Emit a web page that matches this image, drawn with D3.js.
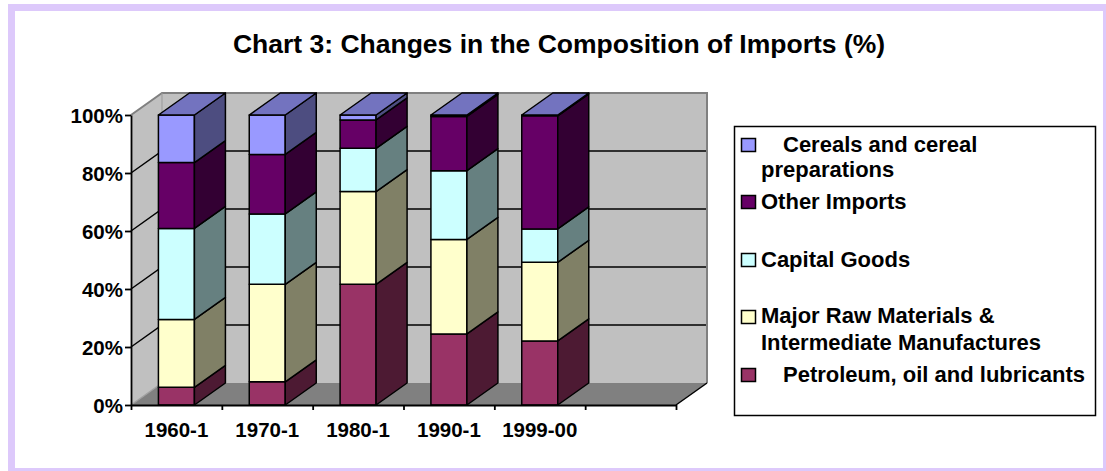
<!DOCTYPE html>
<html>
<head>
<meta charset="utf-8">
<script src="https://cdn.jsdelivr.net/npm/d3@7"></script>
<style>
  body { margin: 0; background: #fff; }
  svg { display: block; font-family: "Liberation Sans", Arial, sans-serif; }
</style>
</head>
<body>
<script>
// data (shares in %, each year sums to ~100)
var categories = ["1960-1", "1970-1", "1980-1", "1990-1", "1999-00"];
var seriesNames = ["Petroleum, oil and lubricants",
                   "Major Raw Materials & Intermediate Manufactures",
                   "Capital Goods",
                   "Other Imports",
                   "Cereals and cereal preparations"];
var petroleum = [6.1, 8.0, 41.6, 24.5, 22.1];
var rawMaterials = [23.4, 33.6, 32.0, 32.6, 27.1];
var capitalGoods = [31.4, 24.3, 14.9, 23.7, 11.5];
var otherImports = [22.7, 20.5, 9.8, 18.7, 39.0];
var cereals = [16.4, 13.6, 1.7, 0.5, 0.3];
var yTicks = [0, 0.2, 0.4, 0.6, 0.8, 1];

var colors = ["#993366", "#FFFFCC", "#CCFFFF", "#660066", "#9999FF"];
var seriesValues = [petroleum, rawMaterials, capitalGoods, otherImports, cereals];

var W = 1106, H = 471;
var dx = 31, dy = -22;   // 3d depth offset
var barW = 36;

var svg = d3.select("body").append("svg")
  .attr("width", W)
  .attr("height", H);

// outer frame
svg.append("rect").attr("x", 8).attr("y", 4).attr("width", W - 8).attr("height", H - 4).attr("fill", "#ddc9fb");
svg.append("rect").attr("x", 15).attr("y", 11).attr("width", 1088).attr("height", 457).attr("fill", "#fff");

svg.append("text")
  .attr("x", 559).attr("y", 53)
  .attr("text-anchor", "middle")
  .attr("font-size", "26.5px").attr("font-weight", "bold")
  .text("Chart 3: Changes in the Composition of Imports (%)");

var rows = categories.map(function(c, i) {
  var r = {cat: c};
  seriesNames.forEach(function(s, j) { r[s] = seriesValues[j][i]; });
  return r;
});
var stack = d3.stack().keys(seriesNames).offset(d3.stackOffsetExpand);
var layers = stack(rows);

var xi = d3.scaleLinear().domain([0, 6]).range([131, 676]);
var y = d3.scaleLinear().domain([0, 1]).range([405, 115]);

var x0 = xi(0), x1 = xi(6), yb = y(0), yt = y(1);

// walls
svg.append("polygon")
  .attr("points", [[x0, yb], [x1, yb], [x1 + dx, yb + dy], [x0 + dx, yb + dy]].join(" "))
  .attr("fill", "#808080");
svg.append("polygon")
  .attr("points", [[x0, yb], [x0, yt], [x0 + dx, yt + dy], [x0 + dx, yb + dy]].join(" "))
  .attr("fill", "#c0c0c0");
svg.append("rect")
  .attr("x", x0 + dx).attr("y", yt + dy)
  .attr("width", x1 - x0).attr("height", yb - yt)
  .attr("fill", "#c0c0c0");

// gridlines on side and back wall
var grid = svg.append("g").attr("stroke", "#000").attr("stroke-width", 1.5).attr("fill", "none");
yTicks.filter(function(t) { return t > 0 && t < 1; }).forEach(function(t) {
  grid.append("polyline")
    .attr("points", [[x0, y(t)], [x0 + dx, y(t) + dy], [x1 + dx, y(t) + dy]].join(" "));
});
svg.append("polyline")
  .attr("points", [[x0, yt], [x0 + dx, yt + dy], [x1 + dx, yt + dy], [x1 + dx, yb + dy]].join(" "))
  .attr("fill", "none").attr("stroke", "#808080").attr("stroke-width", 2);
svg.append("line")
  .attr("x1", x0 + dx).attr("y1", yt + dy).attr("x2", x0 + dx).attr("y2", yb + dy)
  .attr("stroke", "#999").attr("stroke-width", 1);
svg.append("line")
  .attr("x1", x0).attr("y1", yb).attr("x2", x0 + dx).attr("y2", yb + dy)
  .attr("stroke", "#a0a0a0").attr("stroke-width", 1.5);
svg.append("line")
  .attr("x1", x1).attr("y1", yb).attr("x2", x1 + dx).attr("y2", yb + dy)
  .attr("stroke", "#000").attr("stroke-width", 1.5);

// bars
var bars = svg.append("g").attr("stroke", "#000").attr("stroke-width", 1.5).attr("stroke-linejoin", "round");
layers.forEach(function(layer, j) {
  var c = d3.rgb(colors[j]);
  var side = d3.rgb(c.r * 0.5, c.g * 0.5, c.b * 0.5);
  var top = d3.rgb(c.r * 0.75, c.g * 0.75, c.b * 0.75);
  layer.forEach(function(d, i) {
    var bx = xi(i + 0.5) - barW / 2;
    var y0 = y(d[0]), y1 = y(d[1]);
    bars.append("rect")
      .attr("x", bx).attr("y", y1)
      .attr("width", barW).attr("height", y0 - y1)
      .attr("fill", c);
    bars.append("polygon")
      .attr("points", [[bx + barW, y1], [bx + barW + dx, y1 + dy], [bx + barW + dx, y0 + dy], [bx + barW, y0]].join(" "))
      .attr("fill", side);
    if (j === layers.length - 1) {
      bars.append("polygon")
        .attr("points", [[bx, y1], [bx + dx, y1 + dy], [bx + barW + dx, y1 + dy], [bx + barW, y1]].join(" "))
        .attr("fill", top);
    }
  });
});

// axes
var yAxis = svg.append("g")
  .attr("transform", "translate(" + x0 + ",0)")
  .call(d3.axisLeft(y).tickValues(yTicks).tickFormat(d3.format(".0%")).tickSize(6).tickSizeOuter(0));
var xAxis = svg.append("g")
  .attr("transform", "translate(0," + yb + ")")
  .call(d3.axisBottom(xi).ticks(6).tickFormat("").tickSize(5).tickSizeOuter(0));
[yAxis, xAxis].forEach(function(a) {
  a.selectAll("path, line").attr("stroke", "#000").attr("stroke-width", 1.8);
});
yAxis.selectAll("text")
  .attr("x", -8).attr("dy", "0.38em")
  .attr("font-size", "20.5px").attr("font-weight", "bold").attr("font-family", null).attr("fill", "#000");

svg.append("g").selectAll("text")
  .data(categories).enter()
  .append("text")
  .attr("x", function(d, i) { return xi(i + 0.5); })
  .attr("y", 437)
  .attr("text-anchor", "middle")
  .attr("font-size", "20.5px").attr("font-weight", "bold")
  .text(function(d) { return d; });

// legend
var legend = svg.append("g");
legend.append("rect")
  .attr("x", 734.5).attr("y", 126.5).attr("width", 361).attr("height", 289)
  .attr("fill", "#fff").attr("stroke", "#000").attr("stroke-width", 1.5);

var legendItems = [
  {k: 4, sy: 138, lines: ["Cereals and cereal", "preparations"], tx: [783, 761], ty: [152, 177]},
  {k: 3, sy: 195, lines: ["Other Imports"], tx: [761], ty: [209]},
  {k: 2, sy: 253, lines: ["Capital Goods"], tx: [761], ty: [267]},
  {k: 1, sy: 310, lines: ["Major Raw Materials &", "Intermediate Manufactures"], tx: [761, 761], ty: [323, 350]},
  {k: 0, sy: 368, lines: ["Petroleum, oil and lubricants"], tx: [783], ty: [382]}
];
legendItems.forEach(function(it) {
  legend.append("rect")
    .attr("x", 741.5).attr("y", it.sy + 0.5).attr("width", 14).attr("height", 13)
    .attr("fill", colors[it.k]).attr("stroke", "#000").attr("stroke-width", 1.5);
  it.lines.forEach(function(l, n) {
    legend.append("text")
      .attr("x", it.tx[n]).attr("y", it.ty[n])
      .attr("font-size", "22px").attr("font-weight", "bold")
      .text(l);
  });
});
</script>
</body>
</html>
